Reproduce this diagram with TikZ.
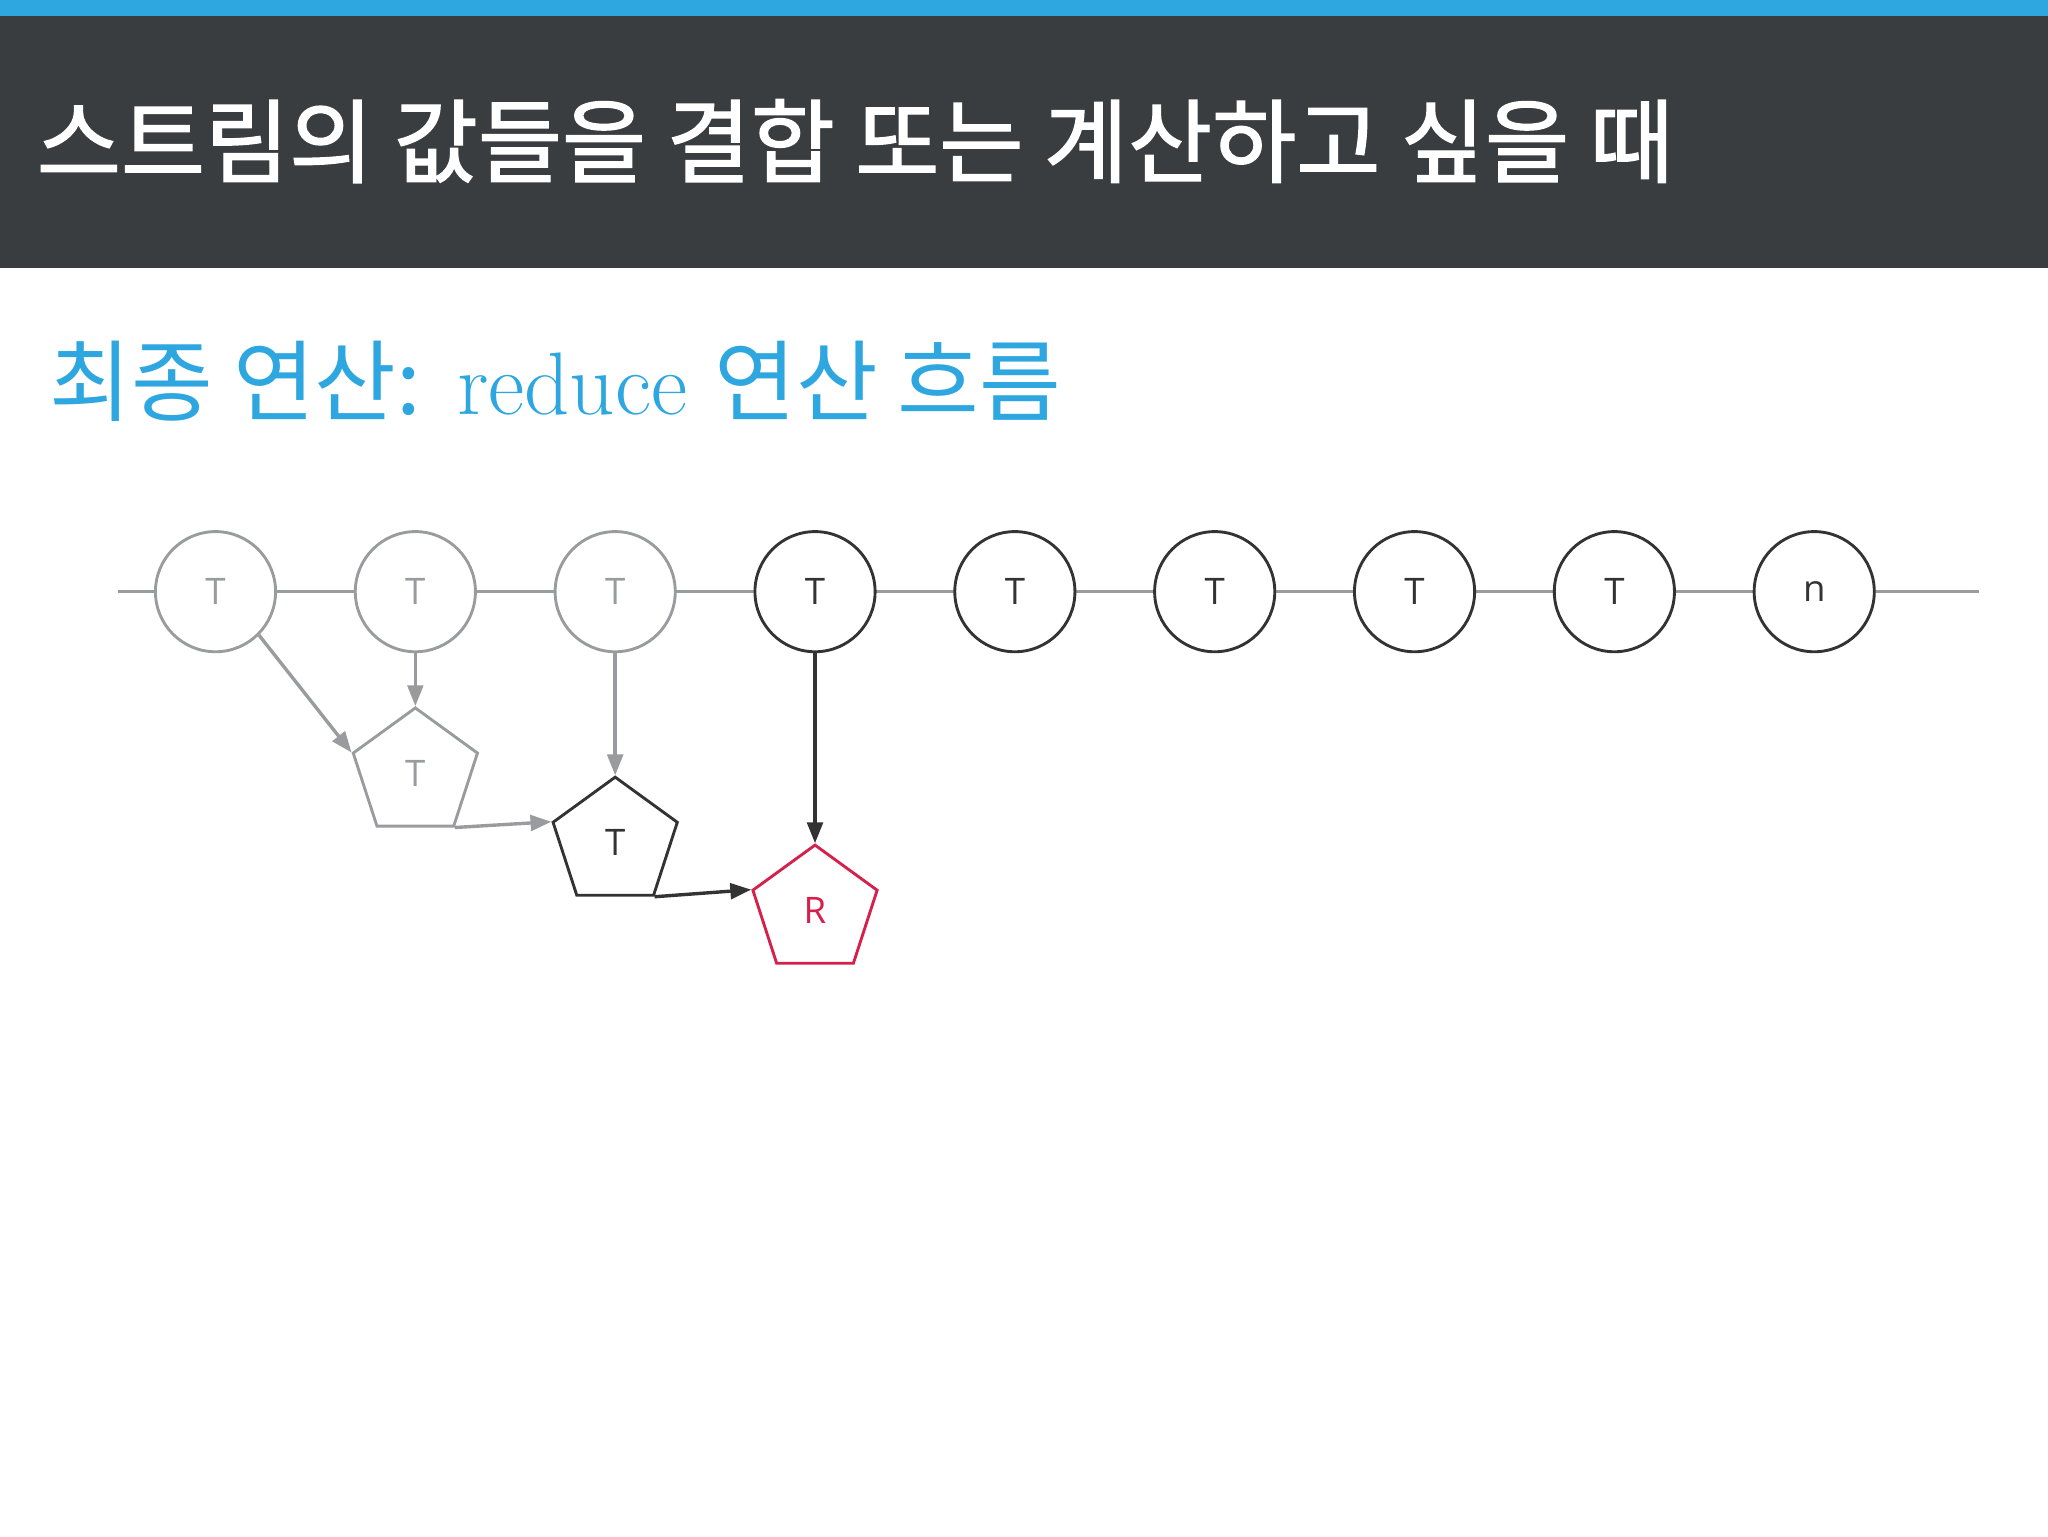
\documentclass[tikz,border=0pt]{standalone}
\usepackage{fontspec}
\newfontfamily\kr{Noto Sans CJK KR}
\newfontfamily\krb{Noto Sans CJK KR}[FakeBold=1.5]
\setsansfont{Open Sans}
\usetikzlibrary{shapes.geometric,arrows.meta}
\definecolor{bar}{HTML}{3A3D3F}
\definecolor{skyb}{HTML}{2EA7E0}
\definecolor{gr}{HTML}{999B9E}
\definecolor{dk}{HTML}{333333}
\definecolor{rd}{HTML}{D4204A}
\begin{document}
\begin{tikzpicture}[x=1pt,y=-1pt,
 circ/.style={circle,draw,line width=2.2pt,minimum size=92pt,inner sep=0pt,fill=white,font=\sffamily\fontsize{28}{30}\selectfont},
 pent/.style={regular polygon,regular polygon sides=5,draw,line width=2.2pt,minimum size=100pt,inner sep=0pt,font=\sffamily\fontsize{28}{30}\selectfont},
 arr/.style={line width=2.6pt,-{Triangle[length=16pt,width=12pt]}}]
\useasboundingbox (0,0) rectangle (1568,1176);
\fill[skyb] (0,0) rectangle (1568,12);
\fill[bar] (0,12) rectangle (1568,205);
\node[anchor=west,text=white,font=\krb\fontsize{70}{80}\selectfont,inner sep=0pt] (title) at (28,108) {스트림의 값들을 결합 또는 계산하고 싶을 때};
\node[anchor=west,text=skyb,font=\fontsize{68}{80}\selectfont,inner sep=0pt] (sub) at (38,292) {{\kr 최종 연산:} reduce {\kr 연산 흐름}};
\coordinate (L) at (90,453); \coordinate (Rr) at (1515,453);
\draw[gr,line width=2.2pt] (L) -- (Rr);
\foreach \i/\x/\c/\t in {1/165/gr/T,2/318/gr/T,3/471/gr/T,4/624/dk/T,5/777/dk/T,6/930/dk/T,7/1083/dk/T,8/1236/dk/T,9/1389/dk/n}
  \node[circ,draw=\c,text=\c] (c\i) at (\x,453) {\t};
\node[pent,draw=gr,text=gr] (p1) at (318,592) {T};
\node[pent,draw=dk,text=dk] (p2) at (471,645) {T};
\node[pent,draw=rd,text=rd] (r) at (624,697) {R};
\draw[arr,gr] (c1.-45) -- (p1.corner 2);
\draw[arr,gr] (c2.south) -- (p1.corner 1);
\draw[arr,gr] (c3.south) -- (p2.corner 1);
\draw[arr,gr] (p1.corner 4) -- (p2.corner 2);
\draw[arr,dk] (p2.corner 4) -- (r.corner 2);
\draw[arr,dk] (c4.south) -- (r.corner 1);
\end{tikzpicture}
\end{document}
